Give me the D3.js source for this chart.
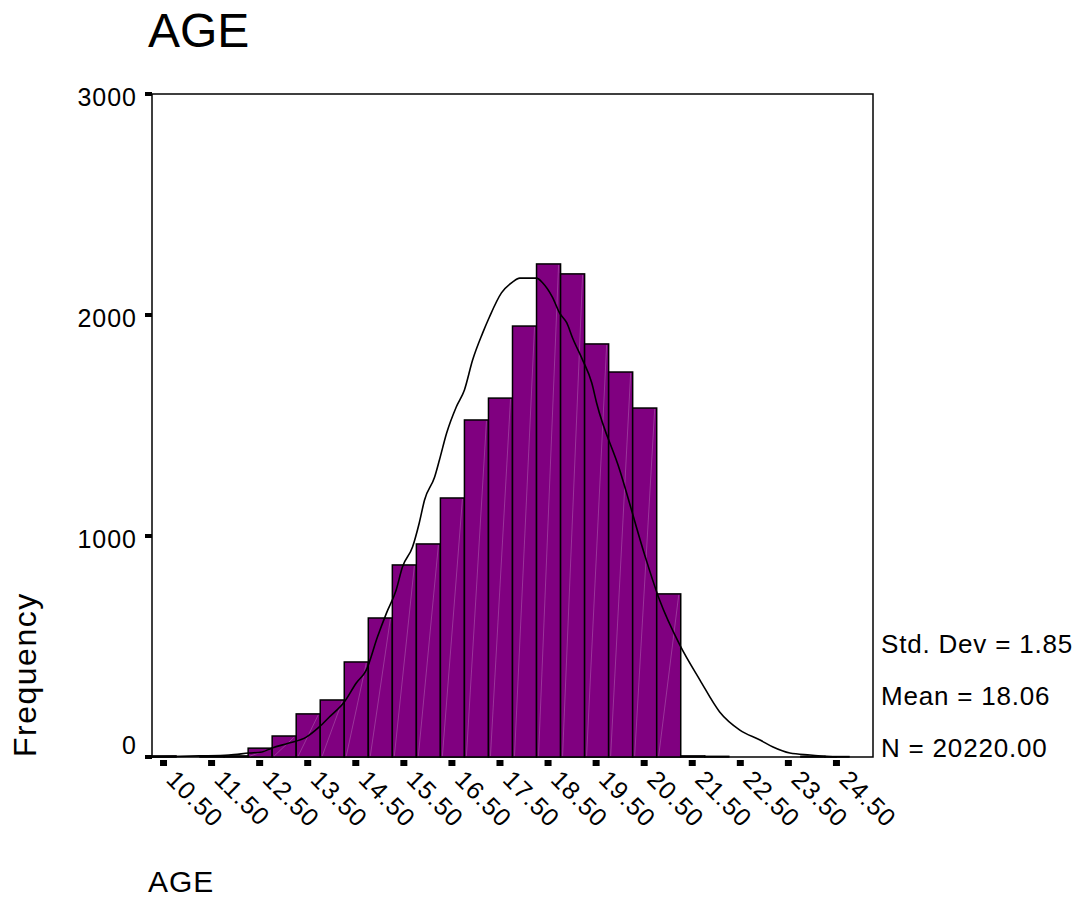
<!DOCTYPE html>
<html>
<head>
<meta charset="utf-8">
<script src="https://cdn.jsdelivr.net/npm/d3@7"></script>
<style>
body { margin: 0; background: #fff; }
text { font-family: "Liberation Sans", Arial, sans-serif; fill: #000; }
</style>
</head>
<body>
<div id="chart"></div>
<script>
// histogram bins (centre of each 0.5 wide bin) and their counts
var binCenters = [10.5, 11.0, 11.5, 12.0, 12.5, 13.0, 13.5, 14.0, 14.5, 15.0,
                  15.5, 16.0, 16.5, 17.0, 17.5, 18.0, 18.5, 19.0, 19.5, 20.0,
                  20.5, 21.0, 21.5, 22.0, 22.5, 23.0, 23.5, 24.0, 24.5];
var binCounts = [5, 0, 3, 5, 40, 95, 195, 258, 430, 629,
                 869, 964, 1172, 1525, 1624, 1950, 2231, 2186, 1869, 1742,
                 1579, 738, 5, 3, 0, 0, 0, 3, 2];
var binWidth = 0.5;

// normal curve
var curveAge = [10.25, 11.23, 11.85, 12.27, 12.54, 12.75, 13.10, 13.46, 13.73, 13.94,
                14.25, 14.50, 14.71, 14.94, 15.13, 15.33, 15.46, 15.67, 15.81, 15.92,
                16.13, 16.23, 16.38, 16.58, 16.75, 16.92, 17.13, 17.27, 17.52, 17.75,
                17.90, 18.25, 18.38, 18.58, 18.73, 18.88, 19.00, 19.21, 19.40, 19.50,
                19.98, 20.50, 20.81, 21.23, 21.65, 22.06, 22.48, 22.90, 23.17, 23.52,
                23.94, 24.50];
var curveFreq = [0, 5, 9, 18, 23, 41, 63, 90, 136, 181,
                 249, 335, 394, 543, 652, 756, 860, 950, 1059, 1163,
                 1267, 1344, 1466, 1584, 1661, 1796, 1919, 1991, 2100, 2149,
                 2167, 2167, 2145, 2081, 2009, 1964, 1896, 1796, 1692, 1602,
                 1299, 914, 710, 507, 348, 204, 122, 77, 45, 18,
                 9, 0];

var xTicks = [10.5, 11.5, 12.5, 13.5, 14.5, 15.5, 16.5, 17.5, 18.5, 19.5, 20.5, 21.5, 22.5, 23.5, 24.5];
var yTicks = [0, 1000, 2000, 3000];
var statLines = ["Std. Dev = 1.85", "Mean = 18.06", "N = 20220.00"];

var width = 1084, height = 917;
var plot = {left: 152, right: 873, top: 94, bottom: 757};

var x = d3.scaleLinear()
    .domain([10.25, 25.25])
    .range([plot.left, plot.right]);

var y = d3.scaleLinear()
    .domain([0, 3000])
    .range([plot.bottom, plot.top]);

var svg = d3.select("#chart").append("svg")
    .attr("width", width)
    .attr("height", height);

svg.append("rect")
    .attr("width", width)
    .attr("height", height)
    .attr("fill", "#fff");

// title
svg.append("text")
    .attr("x", 148)
    .attr("y", 47)
    .attr("font-size", 48)
    .text("AGE");

// plot frame
svg.append("rect")
    .attr("x", plot.left)
    .attr("y", plot.top)
    .attr("width", plot.right - plot.left)
    .attr("height", plot.bottom - plot.top)
    .attr("fill", "none")
    .attr("stroke", "#000")
    .attr("stroke-width", 1.5);

var bins = binCenters.map(function(c, i) { return {c: c, n: binCounts[i]}; })
    .filter(function(d) { return d.n > 0; });

svg.append("g").selectAll("rect")
    .data(bins)
    .enter().append("rect")
    .attr("x", function(d) { return x(d.c - binWidth / 2); })
    .attr("y", function(d) { return y(d.n); })
    .attr("width", function(d) { return x(d.c + binWidth / 2) - x(d.c - binWidth / 2); })
    .attr("height", function(d) { return y(0) - y(d.n); })
    .attr("fill", "#800080")
    .attr("stroke", "#000")
    .attr("stroke-width", 1.5);

// faint seams across the bars, like in the original rendering
svg.append("g").selectAll("line")
    .data(bins.filter(function(d) { return d.n > 30; }))
    .enter().append("line")
    .attr("x1", function(d) { return x(d.c - binWidth / 2) + 2; })
    .attr("y1", y(0) - 1)
    .attr("x2", function(d) { return x(d.c + binWidth / 2) - 2; })
    .attr("y2", function(d) { return y(d.n) + 1; })
    .attr("stroke", "#c080c0")
    .attr("stroke-width", 0.6)
    .attr("opacity", 0.7);

// normal curve
var line = d3.line()
    .x(function(d) { return x(d[0]); })
    .y(function(d) { return y(d[1]); })
    .curve(d3.curveMonotoneX);

svg.append("path")
    .datum(curveAge.map(function(a, i) { return [a, curveFreq[i]]; }))
    .attr("d", line)
    .attr("fill", "none")
    .attr("stroke", "#000")
    .attr("stroke-width", 1.6);

// y axis ticks and labels
svg.append("g").selectAll("rect")
    .data(yTicks)
    .enter().append("rect")
    .attr("x", plot.left - 7)
    .attr("y", function(d) { return y(d) - 2; })
    .attr("width", 7)
    .attr("height", 4)
    .attr("fill", "#000");

svg.append("g").selectAll("text")
    .data(yTicks)
    .enter().append("text")
    .attr("x", 137)
    .attr("y", function(d) { return d === 0 ? y(d) - 12 : y(d) + 3; })
    .attr("dy", "0.35em")
    .attr("text-anchor", "end")
    .attr("font-size", 25)
    .attr("letter-spacing", 1)
    .text(function(d) { return d; });

// x axis ticks and rotated labels
svg.append("g").selectAll("rect")
    .data(xTicks)
    .enter().append("rect")
    .attr("x", function(d) { return x(d) - 4; })
    .attr("y", plot.bottom + 3)
    .attr("width", 7)
    .attr("height", 6)
    .attr("fill", "#000");

svg.append("g").selectAll("text")
    .data(xTicks)
    .enter().append("text")
    .attr("transform", function(d) { return "translate(" + (x(d) + 1) + "," + (plot.bottom + 24) + ") rotate(45)"; })
    .attr("font-size", 25)
    .attr("letter-spacing", 1)
    .text(function(d) { return d.toFixed(2); });

// axis titles
svg.append("text")
    .attr("transform", "translate(36," + plot.bottom + ") rotate(-90)")
    .attr("font-size", 32)
    .attr("letter-spacing", 1.5)
    .text("Frequency");

svg.append("text")
    .attr("x", 148)
    .attr("y", 892)
    .attr("font-size", 30)
    .attr("letter-spacing", 1)
    .text("AGE");

// stats box text
svg.append("g").selectAll("text")
    .data(statLines)
    .enter().append("text")
    .attr("x", 881)
    .attr("y", function(d, i) { return 653 + i * 52; })
    .attr("font-size", 26)
    .attr("letter-spacing", 0.8)
    .text(function(d) { return d; });
</script>
</body>
</html>
